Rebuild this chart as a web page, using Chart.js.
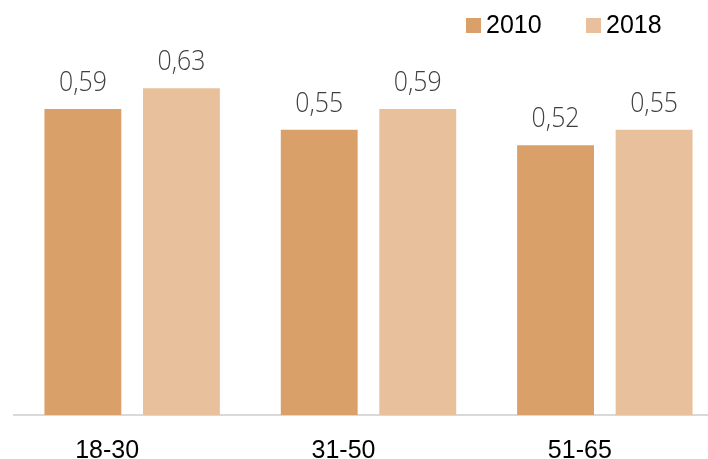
<!DOCTYPE html>
<html>
<head>
<meta charset="utf-8">
<script src="https://cdn.jsdelivr.net/npm/chart.js@4/dist/chart.umd.min.js"></script>
<style>
  html, body { margin: 0; padding: 0; background: #fff; overflow: hidden; }
  #wrap { width: 708px; height: 459px; overflow: hidden; position: relative; }
  #box { position: absolute; left: 0; top: 0; width: 740px; height: 459px; }
</style>
</head>
<body>
<div id="wrap"><div id="box"><canvas id="c"></canvas></div></div>
<script>
const categories = ['18-30', '31-50', '51-65'];
const seriesNames = ['2010', '2018'];
const values2010 = [0.59, 0.55, 0.52];
const values2018 = [0.63, 0.59, 0.55];
const colors = ['#D9A06A', '#E8C09B'];

const valueLabels = {
  id: 'valueLabels',
  afterDatasetsDraw(chart) {
    const ctx = chart.ctx;
    ctx.save();
    ctx.font = '300 27px "Open Sans"';
    ctx.fillStyle = '#404040';
    ctx.textAlign = 'center';
    ctx.textBaseline = 'alphabetic';
    chart.data.datasets.forEach((ds, di) => {
      const meta = chart.getDatasetMeta(di);
      meta.data.forEach((bar, i) => {
        ctx.save();
        ctx.translate(bar.x, bar.y - 18);
        ctx.scale(0.92, 1);
        ctx.fillText(ds.data[i].toFixed(2).replace('.', ','), 0, 0);
        ctx.restore();
      });
    });
    ctx.restore();
  }
};

const categoryLabels = {
  id: 'categoryLabels',
  afterDraw(chart) {
    const ctx = chart.ctx;
    const xs = chart.scales.x;
    ctx.save();
    ctx.font = '25px "Liberation Sans", Arial';
    ctx.fillStyle = '#000';
    ctx.textAlign = 'center';
    ctx.textBaseline = 'alphabetic';
    chart.data.labels.forEach((lab, i) => {
      ctx.fillText(lab, xs.getPixelForTick(i) - 25, chart.chartArea.bottom + 43);
    });
    ctx.restore();
  }
};

const customLegend = {
  id: 'customLegend',
  afterDraw(chart) {
    const ctx = chart.ctx;
    ctx.save();
    ctx.font = '25px "Liberation Sans", Arial';
    ctx.textBaseline = 'alphabetic';
    ctx.textAlign = 'left';
    const xs = [466, 586];
    chart.data.datasets.forEach((ds, i) => {
      ctx.fillStyle = ds.backgroundColor;
      ctx.fillRect(xs[i], 18, 15, 15);
      ctx.fillStyle = '#000';
      ctx.fillText(ds.label, xs[i] + 20, 33);
    });
    ctx.restore();
  }
};

new Chart(document.getElementById('c'), {
  type: 'bar',
  data: {
    labels: categories,
    datasets: [
      { label: seriesNames[0], data: values2010, backgroundColor: colors[0] },
      { label: seriesNames[1], data: values2018, backgroundColor: colors[1] }
    ]
  },
  options: {
    responsive: true,
    maintainAspectRatio: false,
    animation: false,
    devicePixelRatio: 1,
    layout: { padding: { left: 14, right: 17, top: 0, bottom: 44 } },
    datasets: { bar: { categoryPercentage: 0.834, barPercentage: 0.78 } },
    plugins: { legend: { display: false }, tooltip: { enabled: false } },
    scales: {
      x: {
        grid: { display: false, drawTicks: false },
        border: { display: true, color: '#D9D9D9', width: 2 },
        ticks: { display: false }
      },
      y: {
        display: false,
        min: 0,
        max: 0.8
      }
    }
  },
  plugins: [valueLabels, categoryLabels, customLegend]
});
</script>
</body>
</html>
